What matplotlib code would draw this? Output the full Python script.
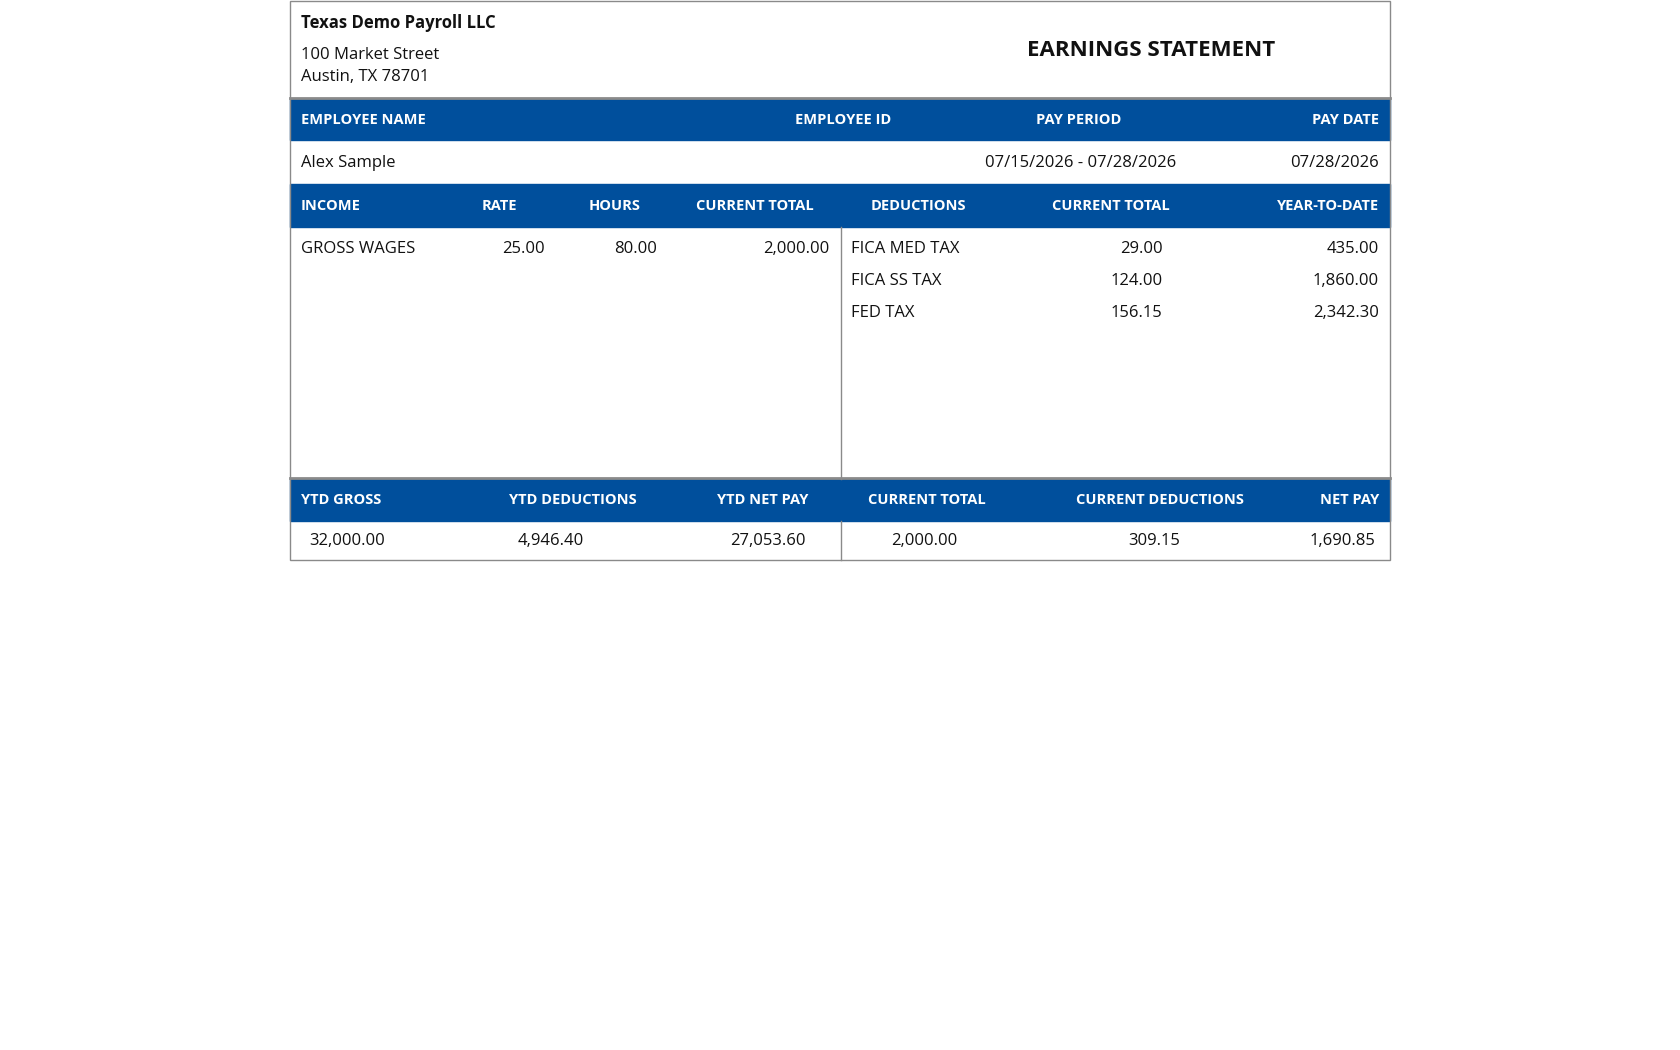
import matplotlib
matplotlib.use("Agg")
import matplotlib.pyplot as plt
from matplotlib.patches import Rectangle

plt.rcParams["font.family"] = ["Open Sans", "DejaVu Sans"]

BLUE = "#004f9c"
GRID = "#8a8a8a"

company = "Texas Demo Payroll LLC"
address = ["100 Market Street", "Austin, TX 78701"]
title = "EARNINGS STATEMENT"

emp_headers = ["EMPLOYEE NAME", "EMPLOYEE ID", "PAY PERIOD", "PAY DATE"]
emp_values = ["Alex Sample", "", "07/15/2026 - 07/28/2026", "07/28/2026"]

detail_headers = ["INCOME", "RATE", "HOURS", "CURRENT TOTAL",
                  "DEDUCTIONS", "CURRENT TOTAL", "YEAR-TO-DATE"]
income_items = ["GROSS WAGES"]
income_rate = ["25.00"]
income_hours = ["80.00"]
income_total = ["2,000.00"]
deduction_items = ["FICA MED TAX", "FICA SS TAX", "FED TAX"]
deduction_current = ["29.00", "124.00", "156.15"]
deduction_ytd = ["435.00", "1,860.00", "2,342.30"]

summary_headers = ["YTD GROSS", "YTD DEDUCTIONS", "YTD NET PAY",
                   "CURRENT TOTAL", "CURRENT DEDUCTIONS", "NET PAY"]
summary_values = ["32,000.00", "4,946.40", "27,053.60",
                  "2,000.00", "309.15", "1,690.85"]

# page coordinates (1568 x 980 layout grid, scaled to the output)
fig = plt.figure(figsize=(16.8, 10.5), dpi=100)
ax = fig.add_axes([0, 0, 1, 1])
ax.set_xlim(0, 1568)
ax.set_ylim(980, 0)
ax.axis("off")

L, R, MID = 271, 1297, 785
BODY = 12
HEAD = 10.5


def bar(y0, y1):
    ax.add_patch(Rectangle((L, y0), R - L, y1 - y0, color=BLUE, zorder=1))


def txt(x, y, s, ha="left", bold=False, color="#111111", size=BODY):
    ax.text(x, y, s, ha=ha, va="center", fontsize=size, color=color,
            fontweight="bold" if bold else "normal", zorder=3)


def head(x, y, s, ha):
    txt(x, y, s, ha=ha, bold=True, color="white", size=HEAD)


# header block
txt(281, 21, company, bold=True, size=12)
txt(281, 51, address[0])
txt(281, 72, address[1])
txt(1074, 47, title, ha="center", bold=True, size=16)

# employee bar
bar(92, 131)
for x, s, ha in zip([281, 787, 1007, 1287], emp_headers,
                    ["left", "center", "center", "right"]):
    head(x, 112, s, ha)
for x, s, ha in zip([281, 787, 1009, 1287], emp_values,
                    ["left", "center", "center", "right"]):
    txt(x, 152, s, ha=ha)

# detail bar
bar(172, 212)
for x, s, ha in zip([281, 466, 574, 705, 857, 1037, 1287], detail_headers,
                    ["left", "center", "center", "center", "center", "center", "right"]):
    head(x, 192, s, ha)

for i, name in enumerate(income_items):
    y = 232 + 30 * i
    txt(281, y, name)
    txt(508, y, income_rate[i], ha="right")
    txt(613, y, income_hours[i], ha="right")
    txt(774, y, income_total[i], ha="right")

for i, name in enumerate(deduction_items):
    y = 232 + 30 * i
    txt(794, y, name)
    txt(1085, y, deduction_current[i], ha="right")
    txt(1287, y, deduction_ytd[i], ha="right")

# summary bar
bar(447, 486)
for x, s, ha in zip([281, 535, 712, 865, 1083, 1287], summary_headers,
                    ["left", "center", "center", "center", "center", "right"]):
    head(x, 467, s, ha)
for x, s, ha in zip([324, 514, 717, 863, 1077, 1284], summary_values,
                    ["center"] * 5 + ["right"]):
    txt(x, 505, s, ha=ha)

# rules
ax.add_patch(Rectangle((L, 0.5), R - L, 523 - 0.5, fill=False,
                       edgecolor=GRID, linewidth=1, zorder=2))
ax.plot([L, R], [91.5, 91.5], color=GRID, linewidth=2, zorder=2)
ax.plot([L, R], [446.5, 446.5], color=GRID, linewidth=2, zorder=2)
ax.plot([MID, MID], [212, 447], color=GRID, linewidth=1, zorder=2)
ax.plot([MID, MID], [486, 523], color=GRID, linewidth=1, zorder=2)

fig.savefig("out.png", dpi=100)
